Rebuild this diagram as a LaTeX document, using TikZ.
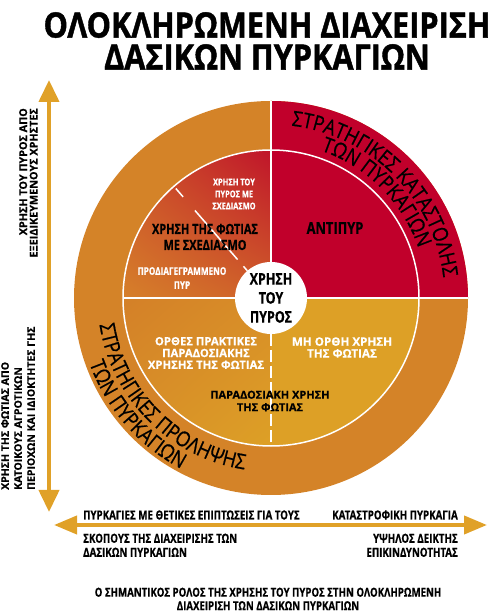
\documentclass[tikz,border=0pt]{standalone}
\usepackage{fontspec}
\setmainfont{Open Sans}
\newfontfamily\ttlfont[FakeStretch=0.875, FakeBold=1.2]{Open Sans}
\newfontfamily\cnd[FakeStretch=0.78, FakeBold=0.5]{Open Sans}
\newfontfamily\wdf[FakeBold=0.4]{Open Sans}
\newfontfamily\crvfont[FakeStretch=0.87, FakeBold=0.5]{Open Sans}
\usetikzlibrary{arrows.meta,decorations.text,shadings}
\definecolor{ored}{RGB}{193,0,43}
\definecolor{oorange}{RGB}{212,131,40}
\definecolor{ogold}{RGB}{221,160,38}
\definecolor{oarrow}{RGB}{224,161,40}
\definecolor{tlA}{RGB}{204,80,42}
\definecolor{tlB}{RGB}{192,20,42}
\definecolor{tlC}{RGB}{214,128,42}
\definecolor{tlD}{RGB}{207,95,42}
\definecolor{blA}{RGB}{212,128,40}
\definecolor{blB}{RGB}{216,142,40}
\definecolor{blC}{RGB}{216,145,40}
\definecolor{blD}{RGB}{221,160,38}
\tikzset{
  wline/.style={white, line width=1.5pt},
  lbl/.style={inner sep=0pt, align=center},
  garrow/.style={oarrow, line width=4pt},
}
\newcommand\lf[2]{\cnd\bfseries\fontsize{#1}{#2}\selectfont}
\newcommand\wf[2]{\wdf\bfseries\fontsize{#1}{#2}\selectfont}
\begin{document}
\begin{tikzpicture}[x=1pt,y=1pt]
\useasboundingbox (0,0) rectangle (489,612);
\coordinate (C) at (271,314);
% rings
\fill[oorange] (C) circle[radius=197];
\fill[ored] (C) -- ++(0:197) arc[start angle=0,end angle=90,radius=197] -- cycle;
\shade[upper left=tlA, upper right=tlB, lower left=tlC, lower right=tlD]
  (C) -- ++(180:148) arc[start angle=180,end angle=90,radius=148] -- cycle;
\shade[upper left=blA, upper right=blB, lower left=blC, lower right=blD]
  (C) -- ++(180:148) arc[start angle=180,end angle=270,radius=148] -- cycle;
\fill[ogold] (C) -- ++(270:148) arc[start angle=270,end angle=360,radius=148] -- cycle;
% white lines
\draw[wline] (C) circle[radius=148];
\draw[wline] (C) -- ++(90:197);
\draw[wline] (C) -- ++(0:197);
\draw[wline] (C) -- ++(180:148);
\draw[wline, dash pattern=on 11pt off 18pt on 65pt off 9pt on 6pt off 60pt]
  ([shift={(131:145)}]C) -- ([shift={(131:36)}]C);
\draw[wline, dash pattern=on 12pt off 4pt]
  ([shift={(270:36)}]C) -- ([shift={(270:148)}]C);
% centre
\node[circle, fill=white, minimum size=72pt, inner sep=0pt, align=center,
  font=\lf{16}{19}] (ctr) at (C) {ΧΡΗΣΗ\\ΤΟΥ\\ΠΥΡΟΣ};
% curved texts
\path[decorate, decoration={text along path, text align=center,
  text={|\crvfont\fontsize{21}{21}\selectfont|ΣΤΡΑΤΗΓΙΚΕΣ ΚΑΤΑΣΤΟΛΗΣ}}]
  ([shift={(90:173.5)}]C) arc[start angle=90,end angle=0,radius=173.5];
\path[decorate, decoration={text along path, text align=center,
  text={|\crvfont\fontsize{21}{21}\selectfont|ΤΩΝ ΠΥΡΚΑΓΙΩΝ}}]
  ([shift={(90:155.5)}]C) arc[start angle=90,end angle=0,radius=155.5];
\path[decorate, decoration={text along path, text align=center,
  text={|\crvfont\fontsize{21}{21}\selectfont|ΣΤΡΑΤΗΓΙΚΕΣ ΠΡΟΛΗΨΗΣ}}]
  ([shift={(180:173.5)}]C) arc[start angle=180,end angle=270,radius=173.5];
\path[decorate, decoration={text along path, text align=center,
  text={|\crvfont\fontsize{21}{21}\selectfont|ΤΩΝ ΠΥΡΚΑΓΙΩΝ}}]
  ([shift={(176:193)}]C) arc[start angle=176,end angle=266,radius=193];
% quadrant labels
\node[lbl, white, font=\lf{9.5}{12}] (t1) at (234,418) {ΧΡΗΣΗ ΤΟΥ\\ΠΥΡΟΣ ΜΕ\\ΣΧΕΔΙΑΣΜΟ};
\node[lbl, font=\lf{14}{16}] (t2) at (205,375) {ΧΡΗΣΗ ΤΗΣ ΦΩΤΙΑΣ\\ΜΕ ΣΧΕΔΙΑΣΜΟ};
\node[lbl, white, font=\lf{10.5}{14}] (t3) at (182,334) {ΠΡΟΔΙΑΓΕΓΡΑΜΜΕΝΟ\\ΠΥΡ};
\node[lbl, font=\lf{16.5}{16}] (t4) at (335,384) {ΑΝΤΙΠΥΡ};
\node[lbl, white, font=\wf{11.3}{11.8}] (t5) at (206,259) {ΟΡΘΕΣ ΠΡΑΚΤΙΚΕΣ\\ΠΑΡΑΔΟΣΙΑΚΗΣ\\ΧΡΗΣΗΣ ΤΗΣ ΦΩΤΙΑΣ};
\node[lbl, white, font=\wf{11.6}{11.8}] (t6) at (342,264.5) {ΜΗ ΟΡΘΗ ΧΡΗΣΗ\\ΤΗΣ ΦΩΤΙΑΣ};
\node[lbl, font=\wf{11}{12.5}] (t7) at (270,211) {ΠΑΡΑΔΟΣΙΑΚΗ ΧΡΗΣΗ\\ΤΗΣ ΦΩΤΙΑΣ};
% title
\node[lbl, anchor=north, font=\ttlfont\bfseries\fontsize{35}{32}\selectfont] (title) at (267,600)
  {ΟΛΟΚΛΗΡΩΜΕΝΗ ΔΙΑΧΕΙΡΙΣΗ\\ΔΑΣΙΚΩΝ ΠΥΡΚΑΓΙΩΝ};
% arrows
\coordinate (vt) at (49,532);
\coordinate (vb) at (49,100);
\draw[garrow, {Triangle[width=20pt,length=22pt]}-{Triangle[width=20pt,length=22pt]}] (vb) -- (vt);
\coordinate (hl) at (54,87);
\coordinate (hr) at (487,87);
\draw[garrow, {Triangle[width=18pt,length=23pt]}-{Triangle[width=18pt,length=23pt]}] (hl) -- (hr);
% left texts
\node[lbl, rotate=90, anchor=north east, align=right, font=\wf{10.8}{10.5}] (lt) at (19,504)
  {ΧΡΗΣΗ ΤΟΥ ΠΥΡΟΣ ΑΠΟ\\ΕΞΕΙΔΙΚΕΥΜΕΝΟΥΣ ΧΡΗΣΤΕΣ};
\node[lbl, rotate=90, anchor=north west, align=left, font=\wf{10.5}{13}] (lb) at (1,122)
  {ΧΡΗΣΗ ΤΗΣ ΦΩΤΙΑΣ ΑΠΟ\\ΚΑΤΟΙΚΟΥΣ ΑΓΡΟΤΙΚΩΝ\\ΠΕΡΙΟΧΩΝ ΚΑΙ ΙΔΙΟΚΤΗΤΕΣ ΓΗΣ};
% bottom texts
\node[lbl, anchor=west, font=\lf{12.5}{14}] (b1) at (83,97) {ΠΥΡΚΑΓΙΕΣ ΜΕ ΘΕΤΙΚΕΣ ΕΠΙΠΤΩΣΕΙΣ ΓΙΑ ΤΟΥΣ};
\node[lbl, anchor=north west, align=left, font=\lf{12.5}{14}] (b2) at (83,78.5) {ΣΚΟΠΟΥΣ ΤΗΣ ΔΙΑΧΕΙΡΙΣΗΣ ΤΩΝ\\ΔΑΣΙΚΩΝ ΠΥΡΚΑΓΙΩΝ};
\node[lbl, anchor=east, font=\lf{12.5}{14}] (b3) at (458,97) {ΚΑΤΑΣΤΡΟΦΙΚΗ ΠΥΡΚΑΓΙΑ};
\node[lbl, anchor=north east, align=right, font=\lf{12.5}{14}] (b4) at (458,78.5) {ΥΨΗΛΟΣ ΔΕΙΚΤΗΣ\\ΕΠΙΚΙΝΔΥΝΟΤΗΤΑΣ};
\node[lbl, anchor=north, font=\lf{12.4}{13.5}] (cap) at (268,24.5)
  {Ο ΣΗΜΑΝΤΙΚΟΣ ΡΟΛΟΣ ΤΗΣ ΧΡΗΣΗΣ ΤΟΥ ΠΥΡΟΣ ΣΤΗΝ ΟΛΟΚΛΗΡΩΜΕΝΗ\\ΔΙΑΧΕΙΡΙΣΗ ΤΩΝ ΔΑΣΙΚΩΝ ΠΥΡΚΑΓΙΩΝ};
\end{tikzpicture}
\end{document}
